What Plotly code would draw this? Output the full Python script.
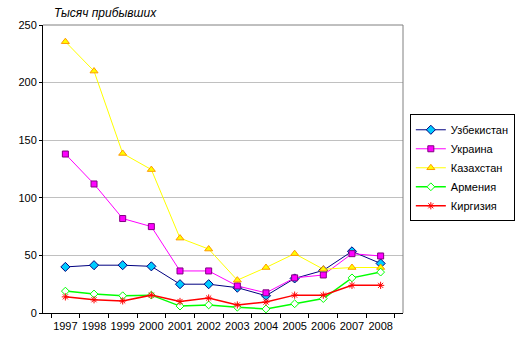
import plotly.graph_objects as go

years = ["1997", "1998", "1999", "2000", "2001", "2002", "2003", "2004", "2005", "2006", "2007", "2008"]
uzbekistan = [40, 41.5, 41.5, 40.5, 25, 25, 22, 15, 30, 37, 53.5, 43]
ukraine = [138, 112, 82, 75, 36.5, 36.5, 23.5, 17.5, 30.5, 33, 51.5, 49.5]
kazakhstan = [235.5, 210, 138.5, 124.5, 65, 55.5, 28.5, 39.5, 51.5, 38, 39.5, 39.5]
armenia = [19, 16.5, 15, 15.5, 6, 7, 5, 3.5, 8, 12.5, 30.5, 35.5]
kyrgyzstan = [14, 11.5, 10.5, 15.5, 10, 13, 7, 9.5, 15.5, 15.5, 24, 24]

names = ["Узбекистан", "Украина", "Казахстан", "Армения", "Киргизия"]
title_text = "Тысяч прибывших"

FONT = "Liberation Sans, Arial, sans-serif"

fig = go.Figure()
fig.add_trace(go.Scatter(x=years, y=uzbekistan, name=names[0], mode="lines+markers",
                         line=dict(color="#000080", width=1),
                         marker=dict(symbol="diamond", size=7, color="#00ccff",
                                     line=dict(color="#000080", width=1))))
fig.add_trace(go.Scatter(x=years, y=ukraine, name=names[1], mode="lines+markers",
                         line=dict(color="#ff00ff", width=1),
                         marker=dict(symbol="square", size=6, color="#ff00ff",
                                     line=dict(color="#800080", width=1))))
fig.add_trace(go.Scatter(x=years, y=kazakhstan, name=names[2], mode="lines+markers",
                         line=dict(color="#ffff00", width=1),
                         marker=dict(symbol="triangle-up", size=7, color="#ffff00",
                                     line=dict(color="#ff9900", width=1))))
fig.add_trace(go.Scatter(x=years, y=armenia, name=names[3], mode="lines+markers",
                         line=dict(color="#00ff00", width=1.5),
                         marker=dict(symbol="diamond", size=6, color="#ffffff",
                                     line=dict(color="#00ff00", width=1))))
fig.add_trace(go.Scatter(x=years, y=kyrgyzstan, name=names[4], mode="lines+markers",
                         line=dict(color="#ff0000", width=1.5),
                         marker=dict(symbol="asterisk", size=6, color="#ff0000",
                                     line=dict(color="#ff0000", width=1))))

fig.update_layout(
    width=516, height=355,
    margin=dict(l=43, r=113, t=25, b=42, autoexpand=False),
    paper_bgcolor="white", plot_bgcolor="white",
    font=dict(family=FONT, size=11, color="black"),
    showlegend=True,
    legend=dict(x=1.019, y=0.69, xanchor="left", yanchor="top",
                bordercolor="black", borderwidth=1, bgcolor="white",
                font=dict(size=11), itemwidth=30, tracegroupgap=0),
    annotations=[dict(text="<i>" + title_text + "</i>", xref="paper", yref="paper",
                      x=0.026, y=1.0, xanchor="left", yanchor="bottom", yshift=3,
                      showarrow=False, font=dict(size=12, family=FONT))],
    shapes=[
        dict(type="line", xref="paper", yref="paper", x0=0, x1=1, y0=1, y1=1,
             line=dict(color="#808080", width=1)),
        dict(type="line", xref="paper", yref="paper", x0=1, x1=1, y0=0, y1=1,
             line=dict(color="#808080", width=1)),
    ],
)
fig.update_xaxes(type="category", showgrid=False, showline=True, linecolor="black",
                 linewidth=1, ticks="outside", ticklen=4, tickcolor="black",
                 tickson="boundaries", tickangle=0, automargin=False,
                 ticklabelstandoff=3, tickfont=dict(size=11))
fig.update_yaxes(range=[0, 250], dtick=50, showgrid=True, gridcolor="#c0c0c0",
                 gridwidth=1, zeroline=False, showline=True, linecolor="black",
                 linewidth=1, ticks="outside", ticklen=3, tickcolor="black",
                 automargin=False, tickfont=dict(size=11))

fig.write_html("out.html", config={"displayModeBar": False},
               post_script="document.body.style.margin='0';document.body.style.overflow='hidden';")
